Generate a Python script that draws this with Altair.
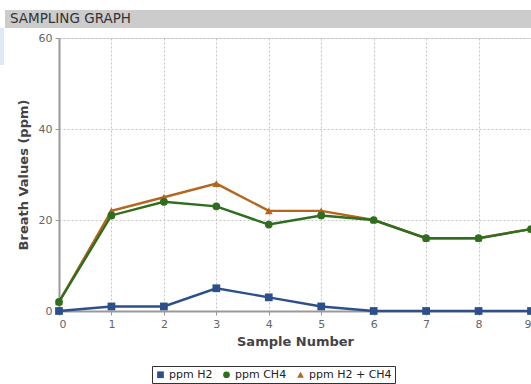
import altair as alt
import pandas as pd

# Breath test samples
samples = [0, 1, 2, 3, 4, 5, 6, 7, 8, 9]
h2 = [0, 1, 1, 5, 3, 1, 0, 0, 0, 0]
ch4 = [2, 21, 24, 23, 19, 21, 20, 16, 16, 18]
h2_ch4 = [2, 22, 25, 28, 22, 22, 20, 16, 16, 18]

series_names = ["ppm H2", "ppm CH4", "ppm H2 + CH4"]
series_colors = ["#2d4f8a", "#2f6e1f", "#b5651d"]
series_shapes = ["square", "circle", "triangle-up"]

rows = []
for name, vals in zip(series_names, [h2, ch4, h2_ch4]):
    for s, v in zip(samples, vals):
        rows.append({"sample": s, "value": v, "series": name})
df = pd.DataFrame(rows)

W, H = 472, 273

color = alt.Color(
    "series:N",
    scale=alt.Scale(domain=series_names, range=series_colors),
    legend=alt.Legend(
        title=None,
        orient="none",
        legendX=93,
        legendY=328,
        direction="horizontal",
        strokeColor="#333333",
        padding=3,
        labelFontSize=11,
        labelFont="DejaVu Sans",
        labelColor="#222222",
        symbolSize=45,
        symbolStrokeWidth=0,
        columnPadding=8,
        labelOffset=3,
    ),
)
shape = alt.Shape(
    "series:N",
    scale=alt.Scale(domain=series_names, range=series_shapes),
    legend=None,
)

axis_style = dict(
    labelFont="DejaVu Sans",
    labelFontSize=11,
    labelColor="#666666",
    titleFont="DejaVu Sans",
    titleFontSize=13,
    titleFontWeight="bold",
    titleColor="#444444",
    domainColor="#999999",
    domainWidth=2,
    tickColor="#999999",
    tickSize=4,
    labelPadding=3,
    grid=True,
    gridColor="#c4c4c4",
    gridDash=[2, 2],
)

x_enc = alt.X(
    "sample:Q",
    scale=alt.Scale(domain=[0, 9], nice=False, zero=False),
    axis=alt.Axis(
        title="Sample Number",
        values=list(range(0, 10)),
        format="d",
        titlePadding=6,
        **axis_style,
    ),
)
y_enc = alt.Y(
    "value:Q",
    scale=alt.Scale(domain=[0, 60], nice=False),
    axis=alt.Axis(
        title="Breath Values (ppm)",
        values=[0, 20, 40, 60],
        titlePadding=8,
        **axis_style,
    ),
)

layers = []
# draw the combined series first so the individual gases sit on top
for name in ["ppm H2 + CH4", "ppm CH4", "ppm H2"]:
    sub = alt.Chart(df).transform_filter(alt.datum.series == name)
    layers.append(
        sub.mark_line(strokeWidth=2.4).encode(x=x_enc, y=y_enc, color=color)
    )
    layers.append(
        sub.mark_point(filled=True, size=60, opacity=1).encode(
            x=x_enc, y=y_enc, color=color, shape=shape
        )
    )

title_df = pd.DataFrame({"label": ["SAMPLING GRAPH"]})
title_bar = alt.Chart(title_df).mark_rect(color="#cccccc").encode(
    x=alt.value(-54), x2=alt.value(W), y=alt.value(-28), y2=alt.value(-10)
)
title_text = alt.Chart(title_df).mark_text(
    align="left", baseline="middle", font="DejaVu Sans", fontSize=13.5, color="#333333"
).encode(text="label:N", x=alt.value(-49), y=alt.value(-19))
side_strip = alt.Chart(title_df).mark_rect(color="#dfe9f5").encode(
    x=alt.value(-59), x2=alt.value(-55), y=alt.value(-10), y2=alt.value(27)
)

chart = (
    alt.layer(title_bar, title_text, side_strip, *layers)
    .properties(
        width=W,
        height=H,
        autosize=alt.AutoSizeParams(type="none"),
        padding={"left": 59, "top": 38, "right": 0, "bottom": 73},
    )
    .configure_view(stroke="#dddddd")
    .configure(background="white")
)

chart.save("out.html", embed_options={"renderer": "svg", "actions": False})
